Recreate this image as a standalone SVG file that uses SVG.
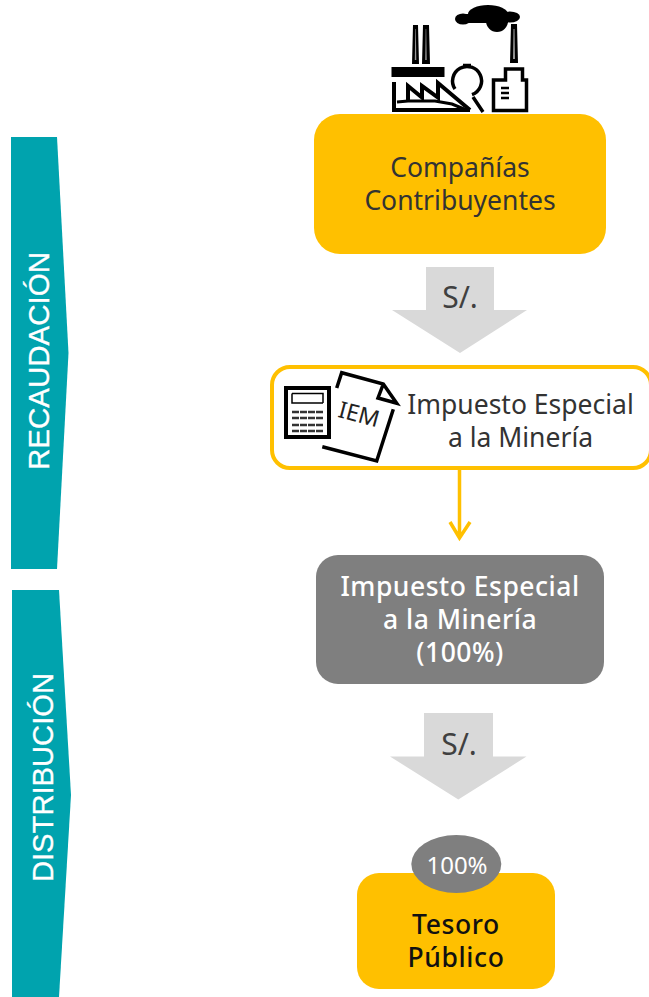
<svg xmlns="http://www.w3.org/2000/svg" width="649" height="997" viewBox="0 0 649 997">
<style>
text{font-family:"Noto Sans","Open Sans",sans-serif;text-anchor:middle}
.t{font-size:26.500px;fill:#333}
.w{font-size:26.500px;letter-spacing:.5px;fill:#fff;font-weight:500}
.k{font-size:26.500px;letter-spacing:.6px;fill:#111;font-weight:500}
.s{font-size:30px;fill:#404040}
.side{font-family:"Liberation Sans",Arial,sans-serif;fill:#fff;stroke:#fff;stroke-width:.3px}
.bar{fill:#00a3ae}
.flow{fill:#d9d9d9}
.ic{fill:none;stroke:#000;stroke-linejoin:miter}
</style>
<rect width="649" height="997" fill="#fff"/>
<g id="recaudacion"><polygon class="bar" points="11,137 57,137 68.500,353 57,569 11,569"/>
<text class="side" style="font-size:29.500px" transform="translate(49,361) rotate(-90)">RECAUDACIÓN</text></g>
<g id="distribucion"><polygon class="bar" points="12,590 59,590 71,795 59,997 12,997"/>
<text class="side" style="font-size:29.200px" transform="translate(53,777.500) rotate(-90)">DISTRIBUCIÓN</text></g>
<g id="factory-icon">
<g fill="#000"><ellipse cx="463" cy="19" rx="8" ry="5.500"/><ellipse cx="488" cy="14" rx="20" ry="9"/><ellipse cx="497" cy="21" rx="11" ry="11"/><ellipse cx="510" cy="17" rx="10" ry="5.500"/><rect x="463" y="14" width="45" height="9"/></g>
<path d="M412 64l1-39h5l1 39zM422 64l1-39h6l1 39zM510 63l1-39h6l1 39z" fill="#000"/>
<path d="M414.800 60l.5-31h.5l.5 31zM425.200 60l.5-31h.5l.5 31zM513 59l.5-30h1l.5 30z" fill="#999"/>
<rect x="391.500" y="67" width="53" height="10" fill="#000"/>
<path class="ic" stroke-width="4" d="M394 112V82M392 110H470M408 102V86L422 97.500V86L438 97.500V83L470 110"/>
<path class="ic" stroke-width="3" d="M397 102L408 101H435L452 104L464 109"/>
<path class="ic" stroke-width="3.500" d="M455 89A14.500 14.500 0 1 1 472 94.600M463 65.500h8M473 97l10 15"/>
<path class="ic" stroke-width="3.500" d="M493.500 110.500V80h12V69h17v11h4V110.500z"/>
<path class="ic" stroke-width="2.500" d="M501 88h8M501 93h8M501 98h8"/>
</g>
<g id="companias"><rect x="314" y="114" width="292" height="140" rx="26" fill="#ffc000"/>
<text class="t" x="460" y="177">Compañías<tspan x="460" dy="33">Contribuyentes</tspan></text></g>
<g id="flow-1"><polygon class="flow" points="426,267 494,267 494,310 527,310 460,353 392,310 426,310"/>
<text class="s" x="460" y="308">S/.</text></g>
<g id="iem-box"><rect x="272" y="367" width="379" height="101" rx="18" fill="#fff" stroke="#ffc000" stroke-width="4"/>
<text class="t" x="520.500" y="414">Impuesto Especial<tspan x="520.500" dy="33">a la Minería</tspan></text></g>
<g id="iem-icon">
<rect x="286" y="388" width="43" height="49" fill="#fff" stroke="#000" stroke-width="4"/>
<path d="M292 393.500h31V403M292 393.500V403h31" fill="none" stroke="#000" stroke-width="1.500"/>
<path d="M292 412h31M292 418h31M292 425h31M292 431h31" stroke="#333" stroke-width="2.500" stroke-dasharray="7 1"/>
<path class="ic" stroke-width="3.500" d="M336.700 388L341.700 372.700L383.300 384L396.700 403.300L378 398L383.300 384M393.300 409.300L376.700 461L322.300 446.700"/>
<text transform="translate(357,422) rotate(15)" style="font-size:23px;fill:#222">IEM</text></g>
<g id="connectors"><path d="M459.500 470V538M450 522l9.500 16 10.500-16" fill="none" stroke="#ffc000" stroke-width="3.500"/></g>
<g id="impuesto-100"><rect x="316" y="555" width="288" height="129" rx="22" fill="#7f7f7f"/>
<text class="w" x="460" y="596">Impuesto Especial<tspan x="460" dy="33">a la Minería</tspan><tspan x="460" dy="33">(100%)</tspan></text></g>
<g id="flow-2"><polygon class="flow" points="424,713 493,713 493,756.500 526.500,756.500 458.300,799.500 390,756.500 424,756.500"/>
<text class="s" x="459" y="755">S/.</text></g>
<g id="tesoro"><rect x="357" y="873" width="198" height="116" rx="22" fill="#ffc000"/>
<text class="k" x="456" y="934">Tesoro<tspan x="456" dy="33">Público</tspan></text></g>
<g id="pct"><ellipse cx="456.300" cy="864" rx="45" ry="29" fill="#7f7f7f"/>
<text class="w" x="457" y="874" style="font-size:24px;font-weight:400;letter-spacing:0">100%</text></g>
</svg>
